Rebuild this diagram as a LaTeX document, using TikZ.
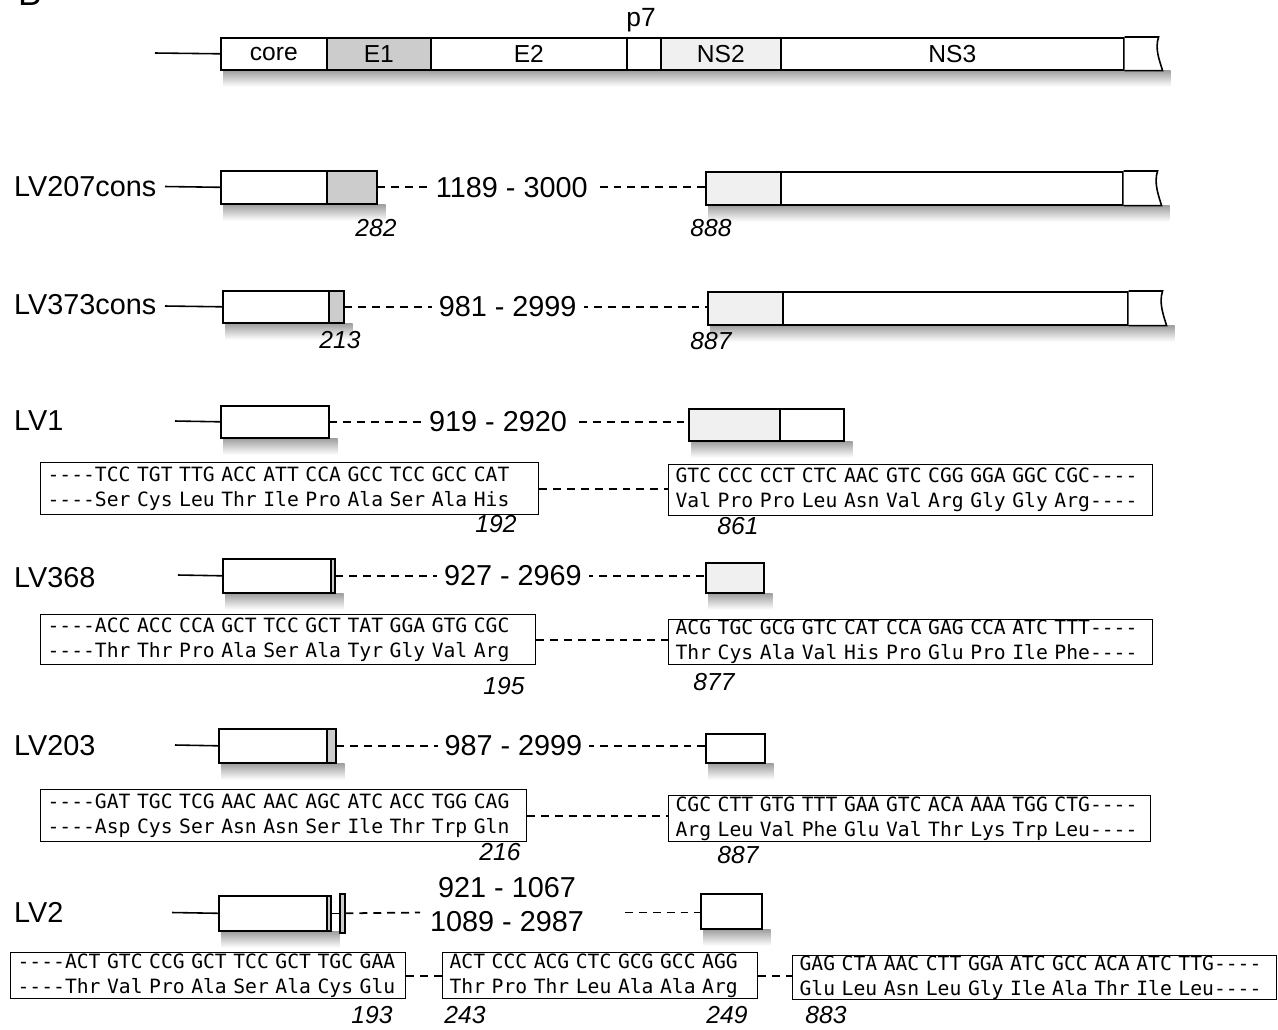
\documentclass[tikz,border=0pt]{standalone}
\usepackage{fontspec}
\setmainfont{Liberation Sans}
\setmonofont{DejaVu Sans Mono}
\usetikzlibrary{backgrounds}

\newdimen\pu \pu=0.02cm
\newcommand\seqfont{\ttfamily\fontsize{11.2}{14.2}\selectfont}

\tikzset{
    frame/.style={draw, line width=0.9pt},
    box/.style 2 args={frame, fill=white, inner sep=0pt, anchor=north west,
        minimum width=#1*\pu, minimum height=#2*\pu, font=\fontsize{14}{16}\selectfont},
    lead/.style={line width=0.9pt},
    gap/.style={line width=1pt, dash pattern=on 4.5pt off 3.4pt},
    span/.style={fill=white, inner xsep=4pt, inner ysep=1pt, font=\fontsize{16.4}{19}\selectfont},
    strain/.style={anchor=west, font=\fontsize{16.4}{19}\selectfont},
    resnum/.style={font=\fontsize{14}{16}\selectfont\itshape},
    seqbox/.style 2 args={draw, line width=0.7pt, anchor=north west, inner xsep=7*\pu, inner ysep=0pt,
        text width=(#1-14)*\pu, minimum height=#2*\pu, align=left, font=\seqfont},
    shadowband/.style={top color=gray!75, bottom color=white}
}

% ragged right end of a polyprotein bar
\newcommand\tornend[1]{%
    \draw[frame, fill=white] (#1.north east) -- ([xshift=34*\pu]#1.north east)
        .. controls ([xshift=30*\pu,yshift=-12*\pu]#1.north east) and ([xshift=35*\pu,yshift=10*\pu]#1.south east)
        .. ([xshift=38*\pu]#1.south east) coordinate (#1-end) -- (#1.south east);}

\begin{document}
\begin{tikzpicture}[x=0.02cm, y=-0.02cm]
    \useasboundingbox (0,0) rectangle (1278,1029);
    \node[font=\fontsize{20}{24}\selectfont, anchor=base west] (panel) at (12,5) {B};

    % genome
    \coordinate (g0) at (155,53);
    \path node[box={106}{32}] (core) at (220,37) {core}
        node[box={104}{32}, fill=gray!40] (E1) at (326,37) {E1}
        node[box={196}{32}] (E2) at (430,37) {E2}
        node[box={34}{32}] (p7) at (626,37) {}
        node[box={120}{32}, fill=gray!12] (NS2) at (660,37) {NS2}
        node[box={343}{32}] (NS3) at (780,37) {NS3};
    \node[font=\fontsize{15}{18}\selectfont] (p7lab) at (641,20) {p7};
    \tornend{NS3}
    \draw[lead] (g0) -- (core.west);

    % LV207cons
    \node[strain] (lv207) at (8,187) {LV207cons};
    \coordinate (a0) at (165,186.5);
    \path node[box={106}{33}] (a1) at (220,170) {}
        node[box={50}{33}, fill=gray!40] (a2) at (326,170) {}
        node[box={75}{33}, fill=gray!12] (b1) at (705,171) {}
        node[box={342}{33}] (b2) at (780,171) {};
    \tornend{b2}
    \draw[lead] (a0) -- (a1.west);
    \draw[gap] (a2.east) -- node[span, pos=0.41] (s207) {1189 - 3000} (a2.east -| b1.west);
    \node[resnum] (n282) at (376,228) {282};
    \node[resnum] (n888) at (711,228) {888};

    % LV373cons
    \node[strain] (lv373) at (8,305) {LV373cons};
    \coordinate (c0) at (165,306);
    \path node[box={106}{32}] (c1) at (222,290) {}
        node[box={15}{32}, fill=gray!40] (c2) at (328,290) {}
        node[box={75}{33}, fill=gray!12] (d1) at (707,291) {}
        node[box={345}{33}] (d2) at (782,291) {};
    \tornend{d2}
    \draw[lead] (c0) -- (c1.west);
    \draw[gap] (c2.east) -- node[span, pos=0.45] (s373) {981 - 2999} (c2.east -| d1.west);
    \node[resnum] (n213) at (340,340) {213};
    \node[resnum] (n887a) at (711,341) {887};

    % LV1
    \node[strain] (lv1) at (8,421) {LV1};
    \coordinate (e0) at (175,421);
    \path node[box={108}{32}] (e1) at (220,405) {}
        node[box={91}{32}, fill=gray!12] (f1) at (688,408) {}
        node[box={64}{32}] (f2) at (779,408) {};
    \draw[lead] (e0) -- (e1.west);
    \draw[gap] (e1.east) -- node[span, pos=0.47] (s1gap) {919 - 2920} (e1.east -| f1.west);
    \node[seqbox={498}{52}] (s1) at (40,462)
        {----TCC TGT TTG ACC ATT CCA GCC TCC GCC CAT\\----Ser Cys Leu Thr Ile Pro Ala Ser Ala His};
    \node[seqbox={484}{51}] (s2) at (668,464)
        {GTC CCC CCT CTC AAC GTC CGG GGA GGC CGC----\\Val Pro Pro Leu Asn Val Arg Gly Gly Arg----};
    \draw[gap] (s1.east) -- (s1.east -| s2.west);
    \node[resnum] (n192) at (496,524) {192};
    \node[resnum] (n861) at (738,526) {861};

    % LV368
    \node[strain] (lv368) at (8,578) {LV368};
    \coordinate (h0) at (178,575);
    \path node[box={108}{34}] (h1) at (222,558) {}
        node[box={4}{34}, fill=gray!40] (h2) at (330,558) {}
        node[box={58}{30}, fill=gray!12] (i1) at (705,562) {};
    \draw[lead] (h0) -- (h1.west);
    \draw[gap] (h2.east) -- node[span, pos=0.48] (s368) {927 - 2969} (h2.east -| i1.west);
    \node[seqbox={495}{50}] (t1) at (40,614)
        {----ACC ACC CCA GCT TCC GCT TAT GGA GTG CGC\\----Thr Thr Pro Ala Ser Ala Tyr Gly Val Arg};
    \node[seqbox={484}{45}] (t2) at (668,619)
        {ACG TGC GCG GTC CAT CCA GAG CCA ATC TTT----\\Thr Cys Ala Val His Pro Glu Pro Ile Phe----};
    \draw[gap] (t1.east) -- (t1.east -| t2.west);
    \node[resnum] (n195) at (504,686) {195};
    \node[resnum] (n877) at (714,682) {877};

    % LV203
    \node[strain] (lv203) at (8,746) {LV203};
    \coordinate (j0) at (175,745);
    \path node[box={108}{34}] (j1) at (218,728) {}
        node[box={9}{34}, fill=gray!40] (j2) at (326,728) {}
        node[box={59}{29}] (k1) at (705,733) {};
    \draw[lead] (j0) -- (j1.west);
    \draw[gap] (j2.east) -- node[span, pos=0.48] (s203) {987 - 2999} (j2.east -| k1.west);
    \node[seqbox={486}{52}] (u1) at (40,789)
        {----GAT TGC TCG AAC AAC AGC ATC ACC TGG CAG\\----Asp Cys Ser Asn Asn Ser Ile Thr Trp Gln};
    \node[seqbox={482}{46}] (u2) at (668,795)
        {CGC CTT GTG TTT GAA GTC ACA AAA TGG CTG----\\Arg Leu Val Phe Glu Val Thr Lys Trp Leu----};
    \draw[gap] (u1.east) -- (u1.east -| u2.west);
    \node[resnum] (n216) at (500,852) {216};
    \node[resnum] (n887b) at (738,855) {887};

    % LV2
    \node[strain] (lv2) at (8,912) {LV2};
    \coordinate (m0) at (172,912.5);
    \path node[box={108}{35}] (m1) at (218,895) {}
        node[box={4}{35}, fill=gray!40] (m2) at (326,895) {}
        node[box={5}{39}, fill=gray!40] (m3) at (339,893) {}
        node[box={61}{35}] (n1) at (700,893) {};
    \coordinate (q1) at (420,912.5);
    \coordinate (q2) at (625,912.5);
    \draw[lead] (m0) -- (m1.west);
    \draw[lead] (m2.east) -- (m3.west);
    \draw[gap] (m3.east) -- (q1);
    \draw[gap] (q2) -- (q2 -| n1.west);
    \node[font=\fontsize{16.4}{19.8}\selectfont, align=center] (s2gap) at (507,904.5)
        {921 - 1067\\1089 - 2987};
    \node[seqbox={395}{46}] (v1) at (10,952)
        {----ACT GTC CCG GCT TCC GCT TGC GAA\\----Thr Val Pro Ala Ser Ala Cys Glu};
    \node[seqbox={315}{46}] (v2) at (442,952)
        {ACT CCC ACG CTC GCG GCC AGG\\Thr Pro Thr Leu Ala Ala Arg};
    \node[seqbox={484}{43}] (v3) at (792,955)
        {GAG CTA AAC CTT GGA ATC GCC ACA ATC TTG----\\Glu Leu Asn Leu Gly Ile Ala Thr Ile Leu----};
    \draw[gap] (v1.east) -- (v1.east -| v2.west);
    \draw[gap] (v2.east) -- (v2.east -| v3.west);
    \node[resnum] (n193) at (372,1015) {193};
    \node[resnum] (n243) at (465,1015) {243};
    \node[resnum] (n249) at (727,1015) {249};
    \node[resnum] (n883) at (826,1015) {883};

    % shading under the bars
    \begin{scope}[on background layer]
        \foreach \from/\to in {core.south west/NS3-end, a1.south west/a2.south east, b1.south west/b2-end,
                c1.south west/c2.south east, d1.south west/d2-end, e1.south west/e1.south east,
                f1.south west/f2.south east, h1.south west/h2.south east, i1.south west/i1.south east,
                j1.south west/j2.south east, k1.south west/k1.south east, m1.south west/m2.south east,
                n1.south west/n1.south east}
            \shade[shadowband] ([xshift=3*\pu]\from) rectangle ([xshift=8*\pu,yshift=-16*\pu]\to);
    \end{scope}
\end{tikzpicture}
\end{document}
